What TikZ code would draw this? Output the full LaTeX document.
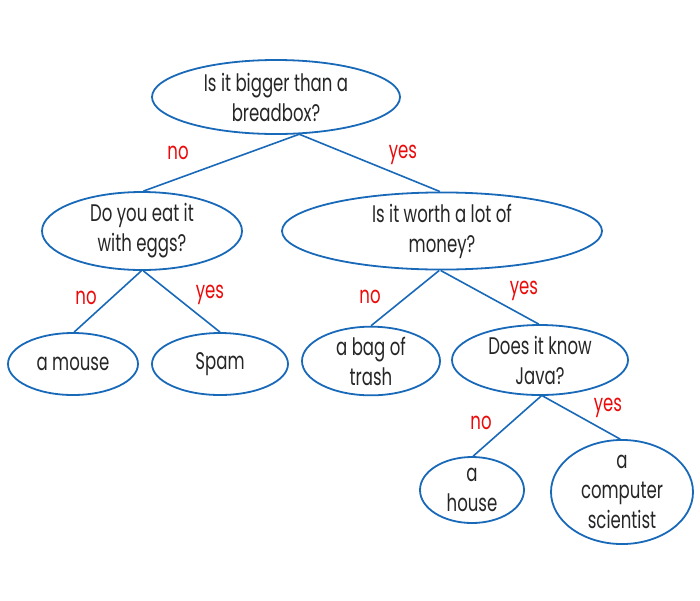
\documentclass[tikz,border=0pt]{standalone}
\usepackage{fontspec}
\setmainfont[FakeStretch=0.69]{Poppins}
\usetikzlibrary{shapes.geometric}
\definecolor{lineblue}{RGB}{25,105,185}
\definecolor{labred}{RGB}{235,10,10}
\begin{document}
\begin{tikzpicture}[x=1pt,y=-1pt,
  qbox/.style={ellipse,draw=lineblue,line width=1.8pt,inner sep=0pt,align=center,
    font=\fontsize{24}{30}\selectfont,text=black!85},
  link/.style={draw=lineblue,line width=1.6pt},
  lab/.style={text=labred,font=\fontsize{24}{28}\selectfont,inner sep=0pt}]
\useasboundingbox (0,0) rectangle (700,600);
\node[qbox,minimum width=248,minimum height=74] (root) at (276,97) {Is it bigger than a\\breadbox?};
\node[qbox,minimum width=200,minimum height=78] (eggs) at (142,231) {Do you eat it\\with eggs?};
\node[qbox,minimum width=320,minimum height=76] (worth) at (442,231) {Is it worth a lot of\\money?};
\node[qbox,minimum width=130,minimum height=62] (mouse) at (73,364) {a mouse};
\node[qbox,minimum width=136,minimum height=62] (spam) at (220,364) {Spam};
\node[qbox,minimum width=138,minimum height=68] (bag) at (371,361) {a bag of\\trash};
\node[qbox,minimum width=176,minimum height=70] (java) at (540,360) {Does it know\\Java?};
\node[qbox,minimum width=104,minimum height=66] (house) at (472,490) {a\\house};
\node[qbox,minimum width=142,minimum height=96] (sci) at (622,492) {a\\computer\\scientist};
\draw[link] (root.-58) -- (eggs.88);
\draw[link] (root.-58) -- (worth.93);
\draw[link] (eggs.-91) -- (mouse.88);
\draw[link] (eggs.-88) -- (spam.90);
\draw[link] (worth.-94) -- (bag.90);
\draw[link] (worth.-92) -- (java.92);
\draw[link] (java.-88) -- (house.88);
\draw[link] (java.-86) -- (sci.92);
\node[lab] (l1) at (178,153) {no};
\node[lab] (l2) at (403,155) {yes};
\node[lab] (l3) at (86,298) {no};
\node[lab] (l4) at (210,295) {yes};
\node[lab] (l5) at (370,297) {no};
\node[lab] (l6) at (524,291) {yes};
\node[lab] (l7) at (481,423) {no};
\node[lab] (l8) at (608,408) {yes};
\end{tikzpicture}
\end{document}
